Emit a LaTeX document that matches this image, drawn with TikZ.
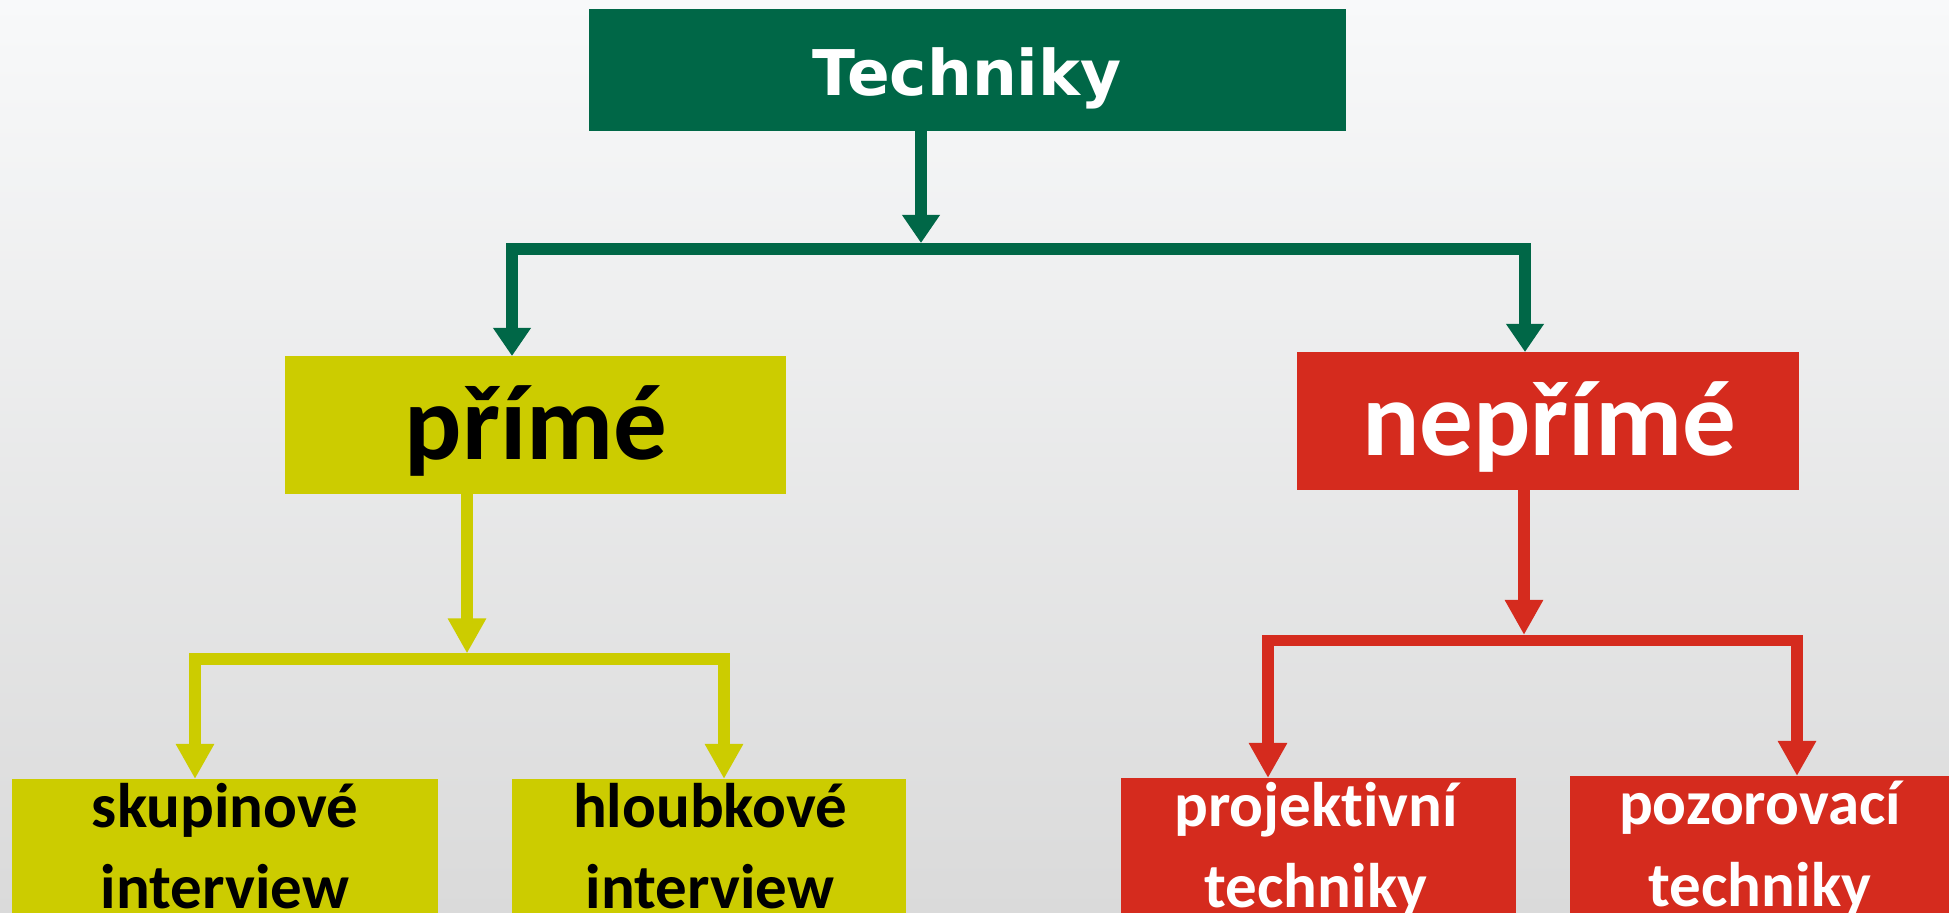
\documentclass[tikz,border=0pt]{standalone}
\usepackage{fontspec}
\setmainfont{Carlito}[Ligatures={NoCommon}]
\newfontfamily\techfont{DejaVu Sans}
\usetikzlibrary{arrows.meta}
\definecolor{grn}{RGB}{0,103,71}
\definecolor{yel}{RGB}{204,204,0}
\definecolor{myred}{RGB}{213,43,30}
\definecolor{bgtop}{RGB}{248,249,250}
\definecolor{bgbot}{RGB}{218,218,218}
\begin{document}
\begin{tikzpicture}[x=0.5pt,y=-0.5pt,
  box/.style={draw=none, inner sep=0pt, outer sep=0pt, anchor=north west},
  conn/.style={line width=5.75pt, line join=miter},
  bar/.style={conn, line cap=rect},
  arrG/.style={conn, draw=grn, fill=grn, -{Triangle[width=18pt,length=14pt]}},
  arrY/.style={conn, draw=yel, fill=yel, -{Triangle[width=18pt,length=17.5pt]}},
  arrR/.style={conn, draw=myred, fill=myred, -{Triangle[width=18pt,length=17.5pt]}},
  big/.style={anchor=base, inner sep=0pt, font=\bfseries\fontsize{53.5}{60}\selectfont},
  small/.style={anchor=base, inner sep=0pt, align=center, font=\bfseries\fontsize{31.5}{40.5}\selectfont}
]
\useasboundingbox (0,0) rectangle (1949,913);
\shade[top color=bgtop, bottom color=bgbot] (0,0) rectangle (1949,913);

% boxes
\node[box, fill=grn, minimum width=378.5pt, minimum height=61pt] (tech) at (589,9) {};
\node[box, fill=yel, minimum width=250.5pt, minimum height=69pt] (prime) at (285,356) {};
\node[box, fill=myred, minimum width=251pt, minimum height=69pt] (neprime) at (1297,352) {};
\node[box, fill=yel, minimum width=213pt, minimum height=80pt] (skup) at (12,779) {};
\node[box, fill=yel, minimum width=197pt, minimum height=80pt] (hloub) at (512,779) {};
\node[box, fill=myred, minimum width=197.5pt, minimum height=80pt] (proj) at (1121,778) {};
\node[box, fill=myred, minimum width=200pt, minimum height=80pt] (pozo) at (1570,776) {};

% texts
\node[anchor=base, inner sep=0pt, text=white, font=\techfont\bfseries\fontsize{31.5}{36}\selectfont] (ttech) at (967,96) {Techniky};
\node[big, text=black] (tprime) at (536,460) {přímé};
\node[big, text=white] (tneprime) at (1549,456) {nepřímé};
\node[small, text=black] (tskup) at (225,908) {skupinové\\interview};
\node[small, text=black] (thloub) at (710,908) {hloubkové\\interview};
\node[small, text=white] (tproj) at (1316,907) {projektivní\\techniky};
\node[small, text=white] (tpozo) at (1760,906) {pozorovací\\techniky};

% green connectors
\coordinate (gC) at (921,243);
\coordinate (gL) at (512,249);
\coordinate (gR) at (1525,249);
\draw[bar, draw=grn] (gL) -- (gR);
\draw[arrG] (tech.south -| gC) -- (gC);
\draw[arrG] (gL) -- (prime.north -| gL);
\draw[arrG] (gR) -- (neprime.north -| gR);

% yellow connectors
\coordinate (yC) at (467,653.5);
\coordinate (yL) at (195,659);
\coordinate (yR) at (724,659);
\draw[bar, draw=yel] (yL) -- (yR);
\draw[arrY] (prime.south -| yC) -- (yC);
\draw[arrY] (yL) -- (skup.north -| yL);
\draw[arrY] (yR) -- (hloub.north -| yR);

% red connectors
\coordinate (rC) at (1524,635);
\coordinate (rL) at (1268,640.5);
\coordinate (rR) at (1797,640.5);
\draw[bar, draw=myred] (rL) -- (rR);
\draw[arrR] (neprime.south -| rC) -- (rC);
\draw[arrR] (rL) -- (proj.north -| rL);
\draw[arrR] (rR) -- (pozo.north -| rR);
\end{tikzpicture}
\end{document}
